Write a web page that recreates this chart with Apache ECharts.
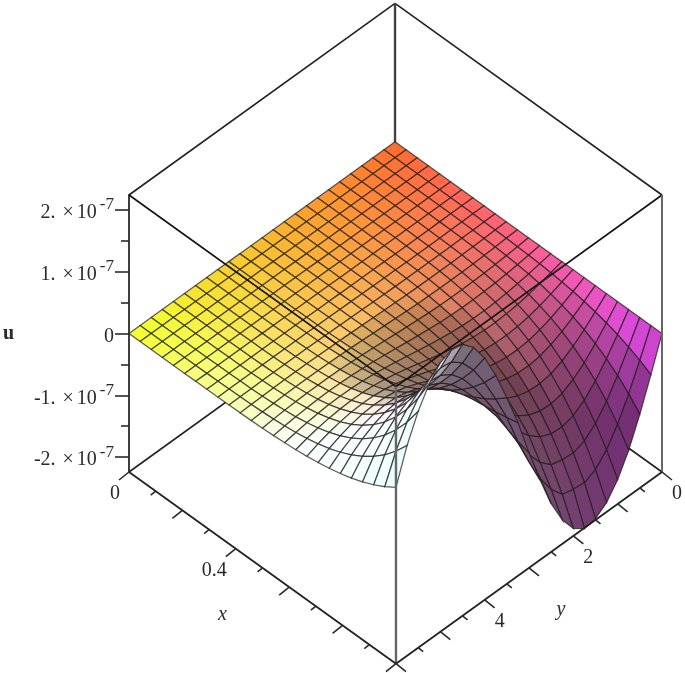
<!DOCTYPE html>
<html>
<head>
<meta charset="utf-8">
<style>
  html, body { margin: 0; padding: 0; background: #fff; }
  #chart { width: 685px; height: 673px; filter: blur(0.7px); }
</style>
<script src="https://cdn.jsdelivr.net/npm/echarts@6/dist/echarts.min.js"></script>
</head>
<body>
<div id="chart"></div>
<script>
// axis ticks
const uMajorTicks = [-2, -1, 0, 1, 2];
const uMinorTicks = [-1.5, -0.5, 0.5, 1.5];
const xMajorTicks = [0, 0.2, 0.4, 0.6, 0.8, 1];
const xMinorTicks = [0.1, 0.3, 0.5, 0.7, 0.9];
const xLabelTicks = [0, 0.4];
const yMajorTicks = [0, 1, 2, 3, 4, 5, 6];
const yMinorTicks = [0.5, 1.5, 2.5, 3.5, 4.5, 5.5];
const yLabelTicks = [0, 2, 4];
const xMax = 1;
const yMax = 6;
const uLimit = 2.24;

// u in units of 1e-7, one row per x mesh line (x = 0..1), one column per y mesh line (y = 0..6)
const uRows = [
  [0,0,0,0,0,0,0,0,0,0,0,0,0,0,0,0,0,0,0,0,0,0,0,0,0],
  [0,0,0,0,0,0,0,0,0,0,0,0,0,0,0,0,0,0,0,0,0,0,0,0,0],
  [0,0,0,0,0,0,0,0,0,0,0,0,0,0,0,0,0,0,0,0,0,0,0,0,0],
  [0,0,0,0,0,0,0,0,0,0,0,0,0,0,0,0,0,0,0,0,0,0,0,0,0],
  [0,0,0,0,0,0,0,0,0,0,0,0,0,0,0,0,0,0,0,0,0,0,0,0,0],
  [0,0,0,-.001,-.001,-.001,-.001,-.001,-.001,-.001,-.001,0,0,0,0,0,.001,.001,.001,.001,.001,.001,.001,0,0],
  [0,-.001,-.001,-.001,-.002,-.002,-.002,-.002,-.002,-.002,-.001,-.001,0,0,.001,.001,.002,.002,.002,.002,.002,.002,.002,.001,.001],
  [0,-.001,-.002,-.003,-.004,-.004,-.005,-.005,-.004,-.004,-.003,-.002,-.001,.001,.002,.003,.004,.004,.005,.005,.004,.004,.003,.002,.001],
  [0,-.002,-.004,-.006,-.008,-.009,-.009,-.009,-.008,-.007,-.005,-.003,-.001,.001,.003,.005,.007,.008,.009,.009,.009,.008,.006,.005,.003],
  [0,-.004,-.008,-.011,-.014,-.015,-.016,-.016,-.015,-.013,-.01,-.006,-.002,.002,.006,.009,.012,.015,.016,.016,.016,.014,.012,.009,.005],
  [0,-.007,-.013,-.019,-.023,-.026,-.028,-.027,-.025,-.022,-.017,-.011,-.004,.003,.01,.016,.021,.025,.027,.028,.027,.024,.02,.015,.008],
  [0,-.011,-.021,-.03,-.038,-.042,-.044,-.044,-.041,-.035,-.027,-.017,-.006,.005,.016,.026,.034,.04,.044,.044,.043,.039,.032,.024,.012],
  [0,-.017,-.033,-.047,-.058,-.065,-.069,-.068,-.063,-.054,-.041,-.026,-.01,.008,.024,.039,.052,.062,.067,.069,.066,.059,.049,.036,.019],
  [0,-.025,-.049,-.07,-.086,-.097,-.102,-.1,-.093,-.08,-.061,-.039,-.014,.011,.036,.059,.078,.092,.1,.102,.098,.088,.073,.054,.028],
  [0,-.036,-.071,-.101,-.125,-.141,-.148,-.146,-.135,-.115,-.089,-.057,-.021,.016,.052,.085,.113,.133,.145,.148,.142,.128,.107,.078,.041],
  [0,-.052,-.1,-.143,-.176,-.199,-.209,-.206,-.191,-.163,-.126,-.08,-.03,.023,.073,.12,.159,.188,.205,.209,.201,.181,.151,.111,.058],
  [0,-.071,-.138,-.198,-.244,-.275,-.288,-.284,-.263,-.225,-.174,-.111,-.041,.032,.101,.166,.22,.259,.283,.288,.278,.25,.208,.153,.08],
  [0,-.096,-.187,-.267,-.329,-.372,-.39,-.384,-.356,-.304,-.235,-.15,-.055,.043,.137,.224,.297,.351,.383,.39,.376,.338,.281,.206,.109],
  [0,-.128,-.249,-.356,-.439,-.496,-.52,-.513,-.475,-.406,-.313,-.199,-.074,.057,.183,.299,.396,.467,.51,.52,.501,.451,.375,.275,.145],
  [0,-.168,-.327,-.467,-.576,-.651,-.682,-.672,-.623,-.532,-.411,-.261,-.097,.075,.24,.392,.52,.613,.669,.682,.657,.591,.492,.361,.19],
  [0,-.217,-.422,-.603,-.744,-.84,-.88,-.868,-.804,-.687,-.531,-.338,-.125,.096,.309,.506,.671,.792,.864,.88,.848,.764,.635,.466,.245],
  [0,-.277,-.539,-.769,-.949,-1.072,-1.123,-1.108,-1.026,-.877,-.677,-.431,-.159,.123,.395,.646,.857,1.01,1.103,1.123,1.082,.975,.81,.595,.313],
  [0,-.349,-.68,-.971,-1.197,-1.353,-1.417,-1.398,-1.35,-1.18,-.93,-.6,-.24,.155,.498,.815,1.081,1.275,1.391,1.417,1.366,1.23,1.023,.751,.395],
  [0,-.436,-.848,-1.212,-1.495,-1.689,-1.769,-1.745,-1.7,-1.49,-1.18,-.78,-.32,.194,.622,1.018,1.349,1.592,1.737,1.769,1.705,1.535,1.276,.937,.493],
  [0,-.54,-1.05,-1.5,-1.85,-2.09,-2.22,-2.25,-2.12,-1.85,-1.46,-.95,-.38,.24,.77,1.26,1.67,1.97,2.15,2.19,2.11,1.9,1.58,1.16,.61]
];

const serif = '"Liberation Serif", serif';
const inkColor = '#2a2a2a';
const nx = uRows.length - 1;
const ny = uRows[0].length - 1;

// box view: X and Y are 0..1 across the floor, the floor slides up the u axis with depth
const depth = 3.1;
function project(api, X, Y, u) {
  return api.coord([0.4991 + 0.5009 * X - 0.4991 * Y, u + depth * (1 - X - Y)]);
}

// back to front so the nearer cells paint over the farther ones
const cells = [];
for (let i = 0; i < nx; i++) {
  for (let j = 0; j < ny; j++) cells.push([i, j]);
}
cells.sort((a, b) => a[0] + a[1] - b[0] - b[1]);

function cellColor(X, Y, uX, uY) {
  const r = 1 - 0.05 * Y * (1 - X) - 0.1 * Math.pow(X * Y, 6);
  const g = Math.min(1, 0.42 - 0.1 * X + (0.62 + 0.16 * X) * Y);
  const bump = Math.min(1, 2 * X) * (-0.75 * Y + 1.08 * Y * Y);
  const b = Math.max(0, Math.min(1, 0.18 + 0.6 * X + 0.35 * X * X + bump));
  const dark = 0.2 * Math.max(0, -uX) + 0.55 * Math.sqrt(Math.max(0, uY - 0.15));
  const light = Math.max(0.45, 1 / (1 + dark));
  return 'rgb(' + [r, g, b].map(c => Math.round(255 * c * light)).join(',') + ')';
}

function renderCell(params, api) {
  const i = api.value(0);
  const j = api.value(1);
  const a = uRows[i][j], b = uRows[i + 1][j], c = uRows[i + 1][j + 1], d = uRows[i][j + 1];
  const uX = (b + c - a - d) / 2 * nx;
  const uY = (c + d - a - b) / 2 * ny;
  return {
    type: 'polygon',
    shape: {
      points: [
        project(api, i / nx, j / ny, a),
        project(api, (i + 1) / nx, j / ny, b),
        project(api, (i + 1) / nx, (j + 1) / ny, c),
        project(api, i / nx, (j + 1) / ny, d)
      ]
    },
    style: {
      fill: cellColor((i + 0.5) / nx, (j + 0.5) / ny, uX, uY),
      stroke: 'rgba(35,28,28,0.72)',
      lineWidth: 1.25
    }
  };
}

// box edges: [X, Y, u sign] pairs
const backEdges = [
  [[0, 1, 1], [0, 0, 1], 1.6, '#222'],
  [[0, 0, 1], [1, 0, 1], 1.6, '#222'],
  [[0, 1, -1], [0, 0, -1], 1.6, '#222'],
  [[1, 0, -1], [0, 0, -1], 1.6, '#222'],
  [[0, 0, 1], [0, 0, -1], 2.4, '#444']
];
const frontEdges = [
  [[0, 1, 1], [1, 1, 1], 1.6, '#111'],
  [[1, 1, 1], [1, 0, 1], 1.6, '#111'],
  [[1, 1, 1], [1, 1, -1], 2.4, '#666'],
  [[1, 0, 1], [1, 0, -1], 2, '#666'],
  [[0, 1, -1], [1, 1, -1], 1.8, '#222'],
  [[1, 1, -1], [1, 0, -1], 1.8, '#222']
];

function edgeSeries(edges, z) {
  return {
    type: 'custom',
    z: z,
    silent: true,
    clip: false,
    data: edges.map((e, k) => [k, 0]),
    renderItem(params, api) {
      const e = edges[api.value(0)];
      const p = project(api, e[0][0], e[0][1], e[0][2] * uLimit);
      const q = project(api, e[1][0], e[1][1], e[1][2] * uLimit);
      return {
        type: 'line',
        shape: { x1: p[0], y1: p[1], x2: q[0], y2: q[1] },
        style: { stroke: e[3], lineWidth: e[2] }
      };
    }
  };
}

// slanted floor axes
function floorPoint(api, isX, value) {
  return isX
    ? project(api, value / xMax, 1, -uLimit)
    : project(api, 1, value / yMax, -uLimit);
}

function tickSeries(values, isX, dx, dy) {
  return {
    type: 'custom',
    z: 5,
    silent: true,
    clip: false,
    data: values.map(v => [v, 0]),
    renderItem(params, api) {
      const p = floorPoint(api, isX, api.value(0));
      return {
        type: 'line',
        shape: { x1: p[0], y1: p[1], x2: p[0] + dx, y2: p[1] + dy },
        style: { stroke: inkColor, lineWidth: 1.6 }
      };
    }
  };
}

function labelSeries(values, isX) {
  return {
    type: 'custom',
    z: 5,
    silent: true,
    clip: false,
    data: values.map(v => [v, 0]),
    renderItem(params, api) {
      const v = api.value(0);
      const p = floorPoint(api, isX, v);
      return {
        type: 'text',
        x: p[0] + (isX ? -9 : 15),
        y: p[1] + 22,
        style: {
          text: String(v),
          fill: inkColor,
          font: '20px ' + serif,
          align: isX ? 'right' : 'center',
          verticalAlign: 'middle'
        }
      };
    }
  };
}

function titleSeries(name, isX, at, dx, dy) {
  return {
    type: 'custom',
    z: 5,
    silent: true,
    clip: false,
    data: [[at, 0]],
    renderItem(params, api) {
      const p = floorPoint(api, isX, api.value(0));
      return {
        type: 'text',
        x: p[0] + dx,
        y: p[1] + dy,
        style: {
          text: name,
          fill: inkColor,
          font: 'italic 20px ' + serif,
          align: 'center',
          verticalAlign: 'middle'
        }
      };
    }
  };
}

function uLabel(v) {
  if (v === 0) return '{m|0}';
  return '{m|' + (v < 0 ? '-' : '') + Math.abs(v) + '.}{t|\u00d7}{m|10}{s|-7}';
}

const chart = echarts.init(document.getElementById('chart'));
chart.setOption({
  animation: false,
  backgroundColor: '#fff',
  grid: { left: 129, right: 23, top: 195, bottom: 201, outerBoundsMode: 'none' },
  xAxis: { type: 'value', min: 0, max: 1, show: false },
  yAxis: [
    {
      type: 'value',
      position: 'left',
      min: -uLimit,
      max: uLimit,
      name: 'u',
      nameLocation: 'middle',
      nameRotate: 0,
      nameGap: 115,
      nameTextStyle: { fontFamily: serif, fontWeight: 'bold', fontSize: 20, color: inkColor },
      splitLine: { show: false },
      axisLine: { show: true, lineStyle: { color: inkColor, width: 1.8 } },
      axisTick: { show: true, length: 14, customValues: uMajorTicks, lineStyle: { color: inkColor, width: 1.6 } },
      axisLabel: {
        show: true,
        margin: 15,
        customValues: uMajorTicks,
        formatter: uLabel,
        rich: {
          m: { fontFamily: serif, fontSize: 20, color: inkColor, lineHeight: 20, padding: [6, 0, 0, 0] },
          t: { fontFamily: serif, fontSize: 20, color: inkColor, lineHeight: 20, padding: [6, 3, 0, 7] },
          s: { fontFamily: serif, fontSize: 17, color: inkColor, lineHeight: 14, padding: [0, 0, 10, 3] }
        }
      }
    },
    {
      type: 'value',
      position: 'left',
      min: -uLimit,
      max: uLimit,
      splitLine: { show: false },
      axisLine: { show: false },
      axisLabel: { show: false },
      axisTick: { show: true, length: 8, customValues: uMinorTicks, lineStyle: { color: inkColor, width: 1.6 } }
    }
  ],
  series: [
    edgeSeries(backEdges, 1),
    {
      type: 'custom',
      z: 2,
      silent: true,
      clip: false,
      progressive: 0,
      data: cells,
      renderItem: renderCell
    },
    edgeSeries(frontEdges, 3),
    tickSeries(xMajorTicks, true, -10, 8),
    tickSeries(xMinorTicks, true, -5, 4),
    tickSeries(yMajorTicks, false, 10, 8),
    tickSeries(yMinorTicks, false, 5, 4),
    labelSeries(xLabelTicks, true),
    labelSeries(yLabelTicks, false),
    titleSeries('x', true, 0.5, -40, 47),
    titleSeries('y', false, 3, 32, 42)
  ]
});
</script>
</body>
</html>
